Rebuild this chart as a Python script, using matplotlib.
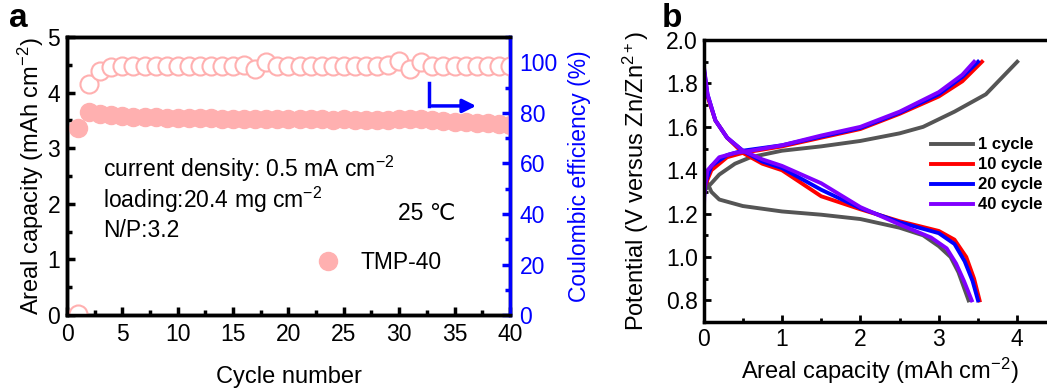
import matplotlib.pyplot as plt
import numpy as np
from matplotlib.ticker import MultipleLocator

plt.rcParams['font.family'] = ['Liberation Sans', 'DejaVu Sans']
plt.rcParams['mathtext.fontset'] = 'custom'
plt.rcParams['mathtext.rm'] = 'Liberation Sans'
plt.rcParams['mathtext.it'] = 'Liberation Sans'
plt.rcParams['mathtext.bf'] = 'Liberation Sans:bold'

# panel a: cycling data
cycles = np.arange(1, 41)
capacity = [3.36, 3.65, 3.62, 3.60, 3.58, 3.57, 3.56, 3.56, 3.55, 3.55,
            3.54, 3.54, 3.54, 3.53, 3.53, 3.53, 3.52, 3.53, 3.52, 3.52,
            3.52, 3.52, 3.52, 3.51, 3.52, 3.51, 3.51, 3.51, 3.51, 3.53,
            3.52, 3.52, 3.50, 3.49, 3.48, 3.47, 3.46, 3.45, 3.44, 3.42]
efficiency = [0.5, 91.5, 96.6, 98.3, 98.5, 98.6, 98.6, 98.6, 98.6, 98.6,
              98.6, 98.6, 98.6, 98.6, 98.6, 98.9, 97.2, 100.0, 98.6, 98.6,
              98.6, 98.6, 98.6, 98.6, 98.6, 98.6, 98.6, 98.6, 98.9, 100.6,
              97.4, 100.0, 98.6, 98.6, 98.6, 98.6, 98.6, 98.6, 98.6, 98.6]

# panel b: charge/discharge curves (capacity, potential)
chg_1_x = [0, 0.02, 0.1, 0.2, 0.4, 0.6, 1.0, 1.5, 2.0, 2.5, 2.8, 3.2, 3.6, 4.0]
chg_1_y = [1.28, 1.31, 1.34, 1.38, 1.43, 1.46, 1.49, 1.51, 1.535, 1.57, 1.60, 1.67, 1.75, 1.90]
dis_1_x = [0, 0.1, 0.2, 0.5, 1.0, 1.5, 2.0, 2.5, 2.8, 3.0, 3.15, 3.25, 3.32, 3.38]
dis_1_y = [1.38, 1.30, 1.265, 1.235, 1.21, 1.195, 1.175, 1.135, 1.10, 1.05, 1.00, 0.93, 0.86, 0.80]

chg_10_x = [0, 0.005, 0.02, 0.1, 0.3, 0.5, 1.0, 1.5, 2.0, 2.5, 3.0, 3.3, 3.55]
chg_10_y = [1.22, 1.28, 1.33, 1.40, 1.46, 1.48, 1.51, 1.55, 1.59, 1.66, 1.74, 1.81, 1.90]
dis_10_x = [0, 0.05, 0.15, 0.3, 0.5, 0.75, 1.0, 1.5, 2.0, 2.5, 3.0, 3.2, 3.35, 3.45, 3.52]
dis_10_y = [1.87, 1.74, 1.63, 1.55, 1.48, 1.43, 1.40, 1.28, 1.22, 1.165, 1.12, 1.08, 1.00, 0.90, 0.80]

chg_20_x = [0, 0.005, 0.02, 0.1, 0.3, 0.5, 1.0, 1.5, 2.0, 2.5, 3.0, 3.3, 3.5]
chg_20_y = [1.15, 1.27, 1.34, 1.42, 1.47, 1.49, 1.515, 1.555, 1.595, 1.665, 1.75, 1.83, 1.90]
dis_20_x = [0, 0.05, 0.15, 0.3, 0.5, 0.75, 1.0, 1.5, 2.0, 2.5, 3.0, 3.2, 3.33, 3.43, 3.50]
dis_20_y = [1.88, 1.75, 1.63, 1.55, 1.49, 1.44, 1.41, 1.31, 1.225, 1.16, 1.11, 1.06, 0.98, 0.89, 0.80]

chg_40_x = [0, 0.003, 0.01, 0.05, 0.2, 0.4, 0.6, 1.0, 1.5, 2.0, 2.5, 3.0, 3.3, 3.45]
chg_40_y = [0.93, 1.20, 1.30, 1.40, 1.46, 1.48, 1.49, 1.515, 1.56, 1.60, 1.67, 1.76, 1.84, 1.90]
dis_40_x = [0, 0.05, 0.15, 0.3, 0.5, 0.75, 1.0, 1.5, 2.0, 2.5, 2.9, 3.1, 3.22, 3.32, 3.42]
dis_40_y = [1.89, 1.75, 1.63, 1.55, 1.49, 1.45, 1.42, 1.34, 1.23, 1.15, 1.09, 1.04, 0.97, 0.89, 0.80]

pink = '#ffb0b0'
fs_tick = 16.5
fs_lab = 17
fs_txt = 16.5

fig = plt.figure(figsize=(10.47, 3.89), dpi=100)

# ---- panel a ----
ax = fig.add_axes([0.064, 0.190, 0.423, 0.715])
ax2 = ax.twinx()
ax.plot(cycles, capacity, 'o', ms=13, color=pink, mec=pink, label='TMP-40', zorder=3)
ax2.plot(cycles, efficiency, 'o', ms=13, mfc='white', mec=pink, mew=1.5)
ax.set_xlim(0, 40)
ax.set_ylim(0, 5)
ax2.set_ylim(0, 110)
ax.xaxis.set_major_locator(MultipleLocator(5))
ax.xaxis.set_minor_locator(MultipleLocator(2.5))
ax.yaxis.set_major_locator(MultipleLocator(1))
ax.yaxis.set_minor_locator(MultipleLocator(0.5))
ax2.yaxis.set_major_locator(MultipleLocator(20))
ax2.yaxis.set_minor_locator(MultipleLocator(10))
for s in list(ax.spines.values()) + list(ax2.spines.values()):
    s.set_linewidth(2.5)
ax2.spines['right'].set_color('blue')
ax.tick_params(which='both', direction='in', width=2.5, labelsize=fs_tick, top=False)
ax.tick_params(axis='x', pad=6)
ax.tick_params(axis='y', pad=5)
ax.tick_params(which='major', length=6)
ax.tick_params(which='minor', length=3.5)
ax2.tick_params(which='both', direction='in', width=2.5, colors='blue', labelsize=fs_tick, pad=7)
ax2.tick_params(which='major', length=6)
ax2.tick_params(which='minor', length=3.5)
ax.set_xlabel('Cycle number', fontsize=fs_lab, labelpad=14)
ax.set_ylabel('Areal capacity (mAh cm$^{-2}$)', fontsize=fs_lab, labelpad=1)
ax2.set_ylabel('Coulombic efficiency (%)', fontsize=16.5, color='blue', labelpad=7)

ax.text(3.25, 2.48, 'current density: 0.5 mA cm$^{-2}$', fontsize=fs_txt)
ax.text(3.25, 1.92, 'loading:20.4 mg cm$^{-2}$', fontsize=fs_txt)
ax.text(3.25, 1.40, 'N/P:3.2', fontsize=fs_txt)
ax.text(29.9, 1.71, '25 ℃', fontsize=fs_txt)
ax.annotate('', xy=(37.2, 3.76), xytext=(32.7, 3.76),
            arrowprops=dict(arrowstyle='-|>', color='blue', lw=2.5,
                            mutation_scale=20))
ax.plot([32.7, 32.7], [3.75, 4.17], color='blue', lw=2.5)
ax.legend(loc='center left', bbox_to_anchor=(0.564, 0.19), frameon=False,
          fontsize=fs_txt, handlelength=1.0, handletextpad=0.9,
          borderpad=0, borderaxespad=0)

fig.text(0.009, 1 - 27 / 389, 'a', fontsize=24, fontweight='bold')

# ---- panel b ----
bx = fig.add_axes([0.672, 0.172, 0.337, 0.725])
series = [
    (chg_1_x, chg_1_y, dis_1_x, dis_1_y, '#555555', '1 cycle'),
    (chg_10_x, chg_10_y, dis_10_x, dis_10_y, '#ff0000', '10 cycle'),
    (chg_20_x, chg_20_y, dis_20_x, dis_20_y, '#0000ff', '20 cycle'),
    (chg_40_x, chg_40_y, dis_40_x, dis_40_y, '#8000ff', '40 cycle'),
]
for cx, cy, dx, dy, col, lab in series:
    bx.plot(cx, cy, color=col, lw=2.8, label=lab)
    bx.plot(dx, dy, color=col, lw=2.8)
bx.set_xlim(0, 4.5)
bx.set_ylim(0.7, 2.0)
bx.xaxis.set_major_locator(MultipleLocator(1))
bx.xaxis.set_minor_locator(MultipleLocator(0.5))
bx.yaxis.set_major_locator(MultipleLocator(0.2))
bx.yaxis.set_minor_locator(MultipleLocator(0.1))
bx.yaxis.set_major_formatter(plt.FormatStrFormatter('%.1f'))
for s in bx.spines.values():
    s.set_linewidth(2.5)
bx.tick_params(which='both', direction='in', width=2, labelsize=fs_tick, pad=4)
bx.tick_params(which='major', length=5)
bx.tick_params(which='minor', length=3)
bx.set_xlabel('Areal capacity (mAh cm$^{-2}$)', fontsize=fs_lab, labelpad=4)
bx.set_ylabel('Potential (V versus Zn/Zn$^{2+}$)', fontsize=fs_lab, labelpad=11)
bx.legend(loc='upper left', bbox_to_anchor=(0.645, 0.655), frameon=False,
          prop={'size': 12, 'weight': 'bold'}, handlelength=2.5,
          handletextpad=0.3, labelspacing=0.3, borderpad=0, borderaxespad=0)
fig.text(0.632, 1 - 27 / 389, 'b', fontsize=24, fontweight='bold')

fig.savefig('out.png', dpi=100)
